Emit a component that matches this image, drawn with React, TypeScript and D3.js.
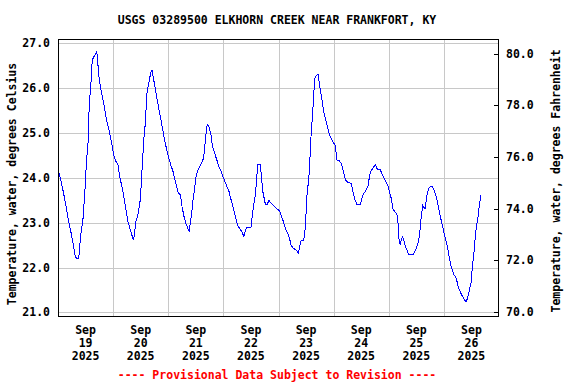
import React, { useEffect, useRef } from 'react';
import * as d3 from 'd3';

const title = 'USGS 03289500 ELKHORN CREEK NEAR FRANKFORT, KY';
const footnote = '---- Provisional Data Subject to Revision ----';
const leftLabel = 'Temperature, water, degrees Celsius';
const rightLabel = 'Temperature, water, degrees Fahrenheit';

const dayLabels = ['19', '20', '21', '22', '23', '24', '25', '26'];
const celsiusTicks = [21, 22, 23, 24, 25, 26, 27];
const fahrenheitTicks = [70, 72, 74, 76, 78, 80];

// hours after Sep 19 2025 00:00
const hoursSinceStart = [
  0.3, 1.7, 2.9, 4.4, 5.6, 6.6, 7.6, 9.0, 9.9, 10.9, 11.7, 12.4, 13.1, 13.6, 14.3, 14.9,
  16.0, 16.9, 17.9, 18.9, 20.0, 21.1, 22.2, 23.2, 24.3, 25.1, 26.1, 26.9, 28.3, 29.5, 30.5,
  31.7, 32.9, 33.9, 34.9, 35.9, 36.6, 37.5, 38.1, 38.6, 39.5, 40.3, 40.9, 41.8, 42.8, 44.0,
  45.0, 46.0, 46.9, 47.9, 49.1, 50.1, 51.1, 52.3, 53.3, 54.0, 54.9, 55.9, 57.1, 58.1, 58.7,
  59.5, 60.2, 61.2, 62.4, 63.4, 63.8, 64.6, 65.0, 65.7, 66.5, 67.2, 67.9, 68.9, 70.1, 71.1,
  72.1, 73.3, 74.5, 75.2, 76.2, 77.3, 78.1, 79.1, 80.0, 80.9, 82.0, 83.4, 84.1, 84.6, 85.3,
  86.0, 86.6, 87.0, 88.1, 88.5, 89.2, 90.3, 91.1, 91.8, 92.9, 93.9, 95.1, 96.2, 96.9, 97.9,
  98.9, 100.0, 100.8, 101.5, 102.5, 103.7, 104.7, 105.5, 105.9, 107.0, 107.7, 108.4, 109.1,
  109.5, 110.0, 110.7, 111.3, 111.7, 112.5, 113.2, 113.9, 114.6, 115.7, 116.8, 117.8, 118.6,
  119.6, 120.7, 121.5, 122.5, 123.3, 124.3, 125.2, 126.2, 127.7, 128.4, 129.1, 130.1, 131.7,
  132.7, 133.9, 134.9, 135.7, 136.4, 137.1, 138.1, 139.0, 140.3, 141.4, 142.6, 143.6, 144.3,
  145.1, 145.8, 146.5, 147.3, 147.9, 148.4, 149.0, 149.4, 150.1, 150.9, 151.6, 152.6, 154.8,
  155.7, 156.7, 157.4, 158.1, 158.8, 159.5, 159.9, 160.5, 161.4, 162.4, 163.1, 164.0, 164.9,
  165.6, 166.5, 167.5, 168.6, 169.7, 170.7, 171.4, 172.3, 173.4, 174.4, 175.5, 176.6, 177.6,
  178.3, 179.1, 179.8, 180.5, 181.3, 181.7, 182.3, 183.0, 183.4, 184.2,
];

const tempC = [
  24.15, 23.84, 23.54, 23.1, 22.8, 22.54, 22.22, 22.2, 22.73, 23.1, 23.69, 24.36, 24.81, 25.63, 26.07, 26.63,
  26.74, 26.82, 26.22, 25.92, 25.63, 25.29, 25.07, 24.81, 24.51, 24.38, 24.29, 24.03, 23.69, 23.32, 23.02,
  22.8, 22.61, 23.02, 23.21, 23.54, 24.21, 24.96, 25.25, 25.85, 26.11, 26.33, 26.41, 26.15, 25.85, 25.52,
  25.25, 24.96, 24.73, 24.51, 24.29, 24.14, 23.92, 23.68, 23.62, 23.36, 23.13, 22.95, 22.81, 23.17, 23.47,
  23.77, 24.06, 24.21, 24.33, 24.44, 24.66, 25.07, 25.2, 25.14, 25.0, 24.73, 24.6, 24.44, 24.25, 24.14,
  23.99, 23.84, 23.69, 23.54, 23.36, 23.13, 22.95, 22.87, 22.8, 22.7, 22.89, 22.89, 22.91, 23.17, 23.43,
  23.66, 24.06, 24.3, 24.3, 24.06, 23.69, 23.41, 23.41, 23.5, 23.43, 23.39, 23.31, 23.28, 23.21, 23.06,
  22.89, 22.76, 22.65, 22.5, 22.43, 22.39, 22.32, 22.54, 22.61, 22.61, 22.91, 23.62, 23.95,
  24.21, 24.81, 25.33, 25.78, 26.22, 26.28, 26.31, 26.07, 25.85, 25.48, 25.25, 25.03, 24.92,
  24.81, 24.73, 24.4, 24.38, 24.33, 24.14, 23.95, 23.9, 23.88, 23.69, 23.54, 23.41, 23.41,
  23.62, 23.71, 23.8, 24.06, 24.18, 24.21, 24.3, 24.2, 24.18, 24.06, 23.92, 23.84, 23.69,
  23.54, 23.31, 23.26, 23.21, 23.13, 22.65, 22.5, 22.61, 22.69, 22.54, 22.43, 22.3, 22.3,
  22.39, 22.54, 22.73, 23.1, 23.39, 23.33, 23.32, 23.58, 23.77, 23.82, 23.8, 23.69, 23.54,
  23.36, 23.13, 22.91, 22.65, 22.43, 22.13, 21.98, 21.85, 21.76, 21.54, 21.42, 21.31, 21.24,
  21.31, 21.5, 21.65, 22.06, 22.43, 22.73, 22.95, 23.17, 23.39, 23.62,
];

const start = new Date(2025, 8, 19, 0, 0);
const end = new Date(2025, 8, 27, 0, 0);
const font = '"DejaVu Sans Mono", monospace';

const App = () => {
  const svgRef = useRef<SVGSVGElement>(null);

  useEffect(() => {
    const width = 576;
    const height = 384;
    const left = 58;
    const right = 498;
    const top = 39;
    const bottom = 316;

    const svg = d3.select(svgRef.current)
      .attr('width', width)
      .attr('height', height);
    svg.selectAll('*').remove();

    const data = hoursSinceStart.map((h, i) => ({
      date: new Date(start.getTime() + h * 3600 * 1000),
      value: tempC[i],
    }));

    const xScale = d3.scaleTime().domain([start, end]).range([left, 499]);
    const yScale = d3.scaleLinear().domain([20.92, 27.1]).range([bottom, top]);
    const yScaleF = d3.scaleLinear().domain([69.83, 80.58]).range([bottom, top]);

    const days = dayLabels.map((_, i) => d3.timeDay.offset(start, i));

    // grid
    svg.append('g')
      .selectAll('line')
      .data(celsiusTicks)
      .enter()
      .append('line')
      .attr('x1', left)
      .attr('x2', right)
      .attr('y1', d => Math.round(yScale(d)) + 0.5)
      .attr('y2', d => Math.round(yScale(d)) + 0.5)
      .attr('stroke', '#c8c8c8')
      .attr('shape-rendering', 'crispEdges');

    svg.append('g')
      .selectAll('line')
      .data(days.slice(1))
      .enter()
      .append('line')
      .attr('x1', d => Math.round(xScale(d)) + 0.5)
      .attr('x2', d => Math.round(xScale(d)) + 0.5)
      .attr('y1', top)
      .attr('y2', bottom)
      .attr('stroke', '#c8c8c8')
      .attr('shape-rendering', 'crispEdges');

    // data line
    const line = d3.line<{ date: Date; value: number }>()
      .x(d => xScale(d.date))
      .y(d => yScale(d.value));

    svg.append('path')
      .datum(data)
      .attr('d', line)
      .attr('fill', 'none')
      .attr('stroke', '#0000ff')
      .attr('stroke-width', 1)
      .attr('shape-rendering', 'crispEdges');

    // frame
    svg.append('rect')
      .attr('x', left + 0.5)
      .attr('y', top + 0.5)
      .attr('width', right - left)
      .attr('height', bottom - top)
      .attr('fill', 'none')
      .attr('stroke', '#000')
      .attr('shape-rendering', 'crispEdges');

    // right ticks
    svg.append('g')
      .selectAll('line')
      .data(fahrenheitTicks)
      .enter()
      .append('line')
      .attr('x1', right - 4)
      .attr('x2', right)
      .attr('y1', d => Math.round(yScaleF(d)) + 0.5)
      .attr('y2', d => Math.round(yScaleF(d)) + 0.5)
      .attr('stroke', '#000')
      .attr('shape-rendering', 'crispEdges');

    const text = (sel: any) => sel
      .attr('font-family', font)
      .attr('font-weight', 'bold')
      .attr('font-size', '11.5px')
      .attr('fill', '#000');

    // left tick labels
    svg.append('g')
      .selectAll('text')
      .data(celsiusTicks)
      .enter()
      .append('text')
      .call(text)
      .attr('x', 50)
      .attr('y', d => yScale(d) + 4)
      .attr('text-anchor', 'end')
      .text(d => d.toFixed(1));

    // right tick labels
    svg.append('g')
      .selectAll('text')
      .data(fahrenheitTicks)
      .enter()
      .append('text')
      .call(text)
      .attr('x', 506)
      .attr('y', d => yScaleF(d) + 4)
      .attr('text-anchor', 'start')
      .text(d => d.toFixed(1));

    // x labels at noon
    const xl = svg.append('g')
      .selectAll('g')
      .data(days)
      .enter()
      .append('g')
      .attr('transform', d => `translate(${xScale(d3.timeHour.offset(d, 12))},0)`);
    xl.append('text').call(text).attr('y', 334).attr('text-anchor', 'middle').text('Sep');
    xl.append('text').call(text).attr('y', 347).attr('text-anchor', 'middle').text((_, i) => dayLabels[i]);
    xl.append('text').call(text).attr('y', 360).attr('text-anchor', 'middle').text('2025');

    // title
    svg.append('text').call(text)
      .attr('x', 277)
      .attr('y', 24)
      .attr('text-anchor', 'middle')
      .text(title);

    // axis titles
    svg.append('text').call(text)
      .attr('transform', 'translate(16,184) rotate(-90)')
      .attr('text-anchor', 'middle')
      .text(leftLabel);

    svg.append('text').call(text)
      .attr('transform', 'translate(560,181) rotate(-90)')
      .attr('text-anchor', 'middle')
      .text(rightLabel);

    // provisional note
    svg.append('text').call(text)
      .attr('x', 277)
      .attr('y', 379)
      .attr('text-anchor', 'middle')
      .attr('fill', '#ff0000')
      .text(footnote);
  }, []);

  return (
    <svg ref={svgRef} width={576} height={384}
      style={{ position: 'absolute', left: 0, top: 0, background: '#fff' }} />
  );
};

export default App;
